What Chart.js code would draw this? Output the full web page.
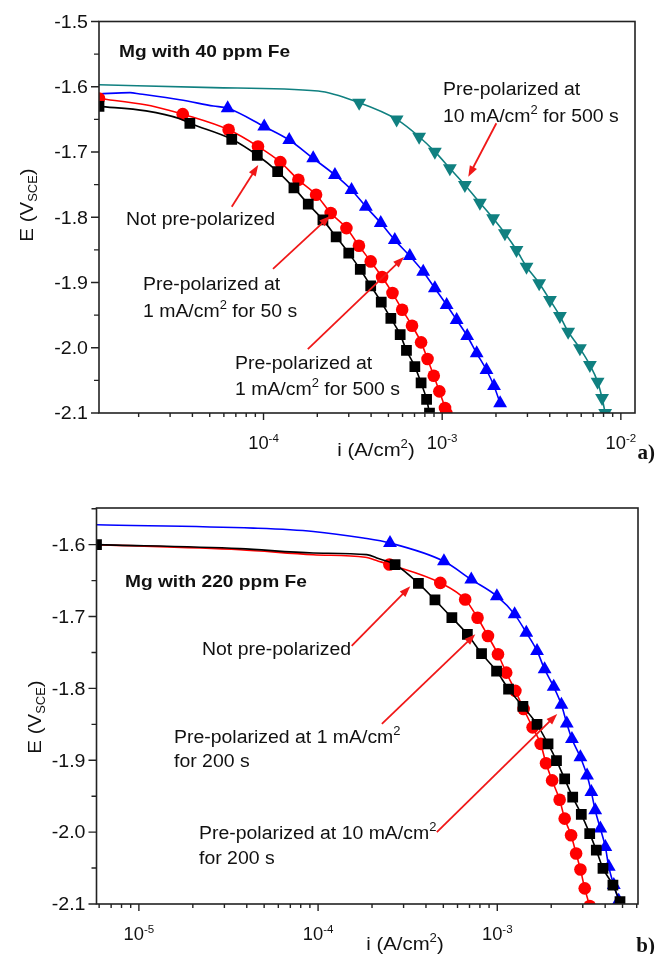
<!DOCTYPE html>
<html>
<head>
<meta charset="utf-8">
<script src="https://cdn.jsdelivr.net/npm/chart.js@4.4.0/dist/chart.umd.min.js"></script>
<style>
html, body { margin: 0; padding: 0; background: #fff; }
#wrap { position: relative; width: 656px; height: 954px; }
canvas { position: absolute; left: 0; top: 0; }
</style>
</head>
<body>
<div id="wrap">
  <canvas id="chartA" width="656" height="954"></canvas>
  <canvas id="chartB" width="656" height="954"></canvas>
</div>
<script>
// ---- panel a) Mg with 40 ppm Fe : current density i (A/cm2) vs potential E (V SCE)
const a_notPre_i = [1.2e-5, 2.2e-5, 3.4e-5, 3.87e-5, 6.64e-5, 9.23e-5, 1.2e-4, 1.48e-4, 1.78e-4, 2.15e-4, 2.55e-4, 3.0e-4, 3.48e-4, 3.98e-4, 4.56e-4, 5.16e-4, 5.82e-4, 6.31e-4, 7.03e-4, 7.62e-4, 8.18e-4, 8.49e-4];
const a_notPre_E = [-1.630, -1.637, -1.649, -1.656, -1.6805, -1.705, -1.730, -1.755, -1.780, -1.804, -1.830, -1.855, -1.880, -1.905, -1.930, -1.955, -1.980, -2.004, -2.029, -2.054, -2.079, -2.100];

const a_1mA50_i = [1.2e-5, 2.22e-5, 3.13e-5, 3.53e-5, 6.38e-5, 9.31e-5, 1.242e-4, 1.567e-4, 1.968e-4, 2.377e-4, 2.911e-4, 3.42e-4, 3.98e-4, 4.61e-4, 5.27e-4, 5.97e-4, 6.78e-4, 7.62e-4, 8.28e-4, 8.97e-4, 9.64e-4, 1.037e-3, 1.054e-3];
const a_1mA50_E = [-1.618, -1.628, -1.638, -1.642, -1.666, -1.6915, -1.7155, -1.7426, -1.7655, -1.7936, -1.8166, -1.8437, -1.8677, -1.8916, -1.9162, -1.9417, -1.9662, -1.9917, -2.0172, -2.0428, -2.0668, -2.0923, -2.100];

const a_1mA500_i = [1.2e-5, 1.79e-5, 2.03e-5, 3.4e-5, 5.24e-5, 6.3e-5, 1.009e-4, 1.393e-4, 1.897e-4, 2.51e-4, 3.11e-4, 3.74e-4, 4.53e-4, 5.43e-4, 6.59e-4, 7.83e-4, 9.1e-4, 1.059e-3, 1.205e-3, 1.38e-3, 1.56e-3, 1.77e-3, 1.95e-3, 2.11e-3];
const a_1mA500_E = [-1.611, -1.609, -1.611, -1.620, -1.6295, -1.633, -1.661, -1.6816, -1.7097, -1.7352, -1.7582, -1.7838, -1.8088, -1.8349, -1.8594, -1.8834, -1.9089, -1.9345, -1.9575, -1.982, -2.0085, -2.0341, -2.0586, -2.085];

const a_10mA500_i = [1.2e-5, 5.24e-5, 2.02e-4, 3.43e-4, 5.56e-4, 7.43e-4, 9.1e-4, 1.104e-3, 1.34e-3, 1.626e-3, 1.928e-3, 2.244e-3, 2.606e-3, 2.965e-3, 3.49e-3, 4.01e-3, 4.56e-3, 5.07e-3, 5.9e-3, 6.71e-3, 7.41e-3, 7.85e-3, 8.17e-3];
const a_10mA500_E = [-1.597, -1.6014, -1.6065, -1.6244, -1.650, -1.6766, -1.6995, -1.725, -1.7506, -1.7777, -1.8016, -1.8246, -1.8502, -1.8758, -1.9012, -1.9268, -1.9513, -1.9754, -2.0009, -2.0264, -2.052, -2.077, -2.100];

// ---- panel b) Mg with 220 ppm Fe
const b_notPre_i = [5.8e-6, 3.66e-5, 9.4e-5, 1.87e-4, 2.17e-4, 2.69e-4, 3.63e-4, 4.49e-4, 5.58e-4, 6.81e-4, 8.17e-4, 9.91e-4, 1.156e-3, 1.39e-3, 1.667e-3, 1.92e-3, 2.14e-3, 2.377e-3, 2.636e-3, 2.944e-3, 3.28e-3, 3.57e-3, 3.89e-3, 4.42e-3, 4.84e-3];
const b_notPre_E = [-1.600, -1.6055, -1.6116, -1.6139, -1.6194, -1.6277, -1.6539, -1.677, -1.7017, -1.7248, -1.7516, -1.776, -1.801, -1.825, -1.850, -1.8773, -1.9004, -1.9258, -1.9513, -1.9752, -2.002, -2.0251, -2.0505, -2.0737, -2.0968];

const b_1mA200_i = [5.8e-6, 3.66e-5, 9.4e-5, 1.83e-4, 2.17e-4, 2.5e-4, 4.81e-4, 6.62e-4, 7.76e-4, 8.87e-4, 1.009e-3, 1.122e-3, 1.262e-3, 1.403e-3, 1.574e-3, 1.746e-3, 1.871e-3, 2.023e-3, 2.228e-3, 2.377e-3, 2.582e-3, 2.754e-3, 2.911e-3, 3.076e-3, 3.28e-3];
const b_1mA200_E = [-1.600, -1.607, -1.614, -1.6176, -1.623, -1.6277, -1.6532, -1.6763, -1.7017, -1.7271, -1.7525, -1.778, -1.8034, -1.8287, -1.8542, -1.8772, -1.9041, -1.928, -1.9549, -1.9812, -2.0043, -2.0297, -2.0519, -2.0782, -2.1028];

const b_10mA200_i = [5.8e-6, 4.36e-5, 9.4e-5, 1.79e-4, 2.52e-4, 5.04e-4, 7.16e-4, 9.95e-4, 1.25e-3, 1.452e-3, 1.667e-3, 1.837e-3, 2.065e-3, 2.28e-3, 2.443e-3, 2.61e-3, 2.91e-3, 3.17e-3, 3.35e-3, 3.52e-3, 3.76e-3, 4.01e-3, 4.19e-3, 4.47e-3, 4.76e-3];
const b_10mA200_E = [-1.5723, -1.577, -1.5816, -1.5908, -1.5978, -1.6232, -1.6486, -1.6717, -1.697, -1.7225, -1.7479, -1.7733, -1.7978, -1.8228, -1.8487, -1.8703, -1.8958, -1.9212, -1.9443, -1.9697, -1.9951, -2.0206, -2.0483, -2.0737, -2.0954];

// axis ranges and tick labels
const a_xRange = [1.2e-5, 1.2e-2];
const a_yRange = [-2.1, -1.5];
const a_yTickLabels = ['-1.5', '-1.6', '-1.7', '-1.8', '-1.9', '-2.0', '-2.1'];
const a_xTickExp = [-4, -3, -2];
const b_xRange = [5.8e-6, 6.1e-3];
const b_yRange = [-2.1, -1.549];
const b_yTickLabels = ['-1.6', '-1.7', '-1.8', '-1.9', '-2.0', '-2.1'];
const b_xTickExp = [-5, -4, -3];

const FONT = "'Liberation Sans', Arial, sans-serif";
const RED_ARROW = '#f01818';
const TEAL = '#108080';

function rich(ctx, parts, x, y, o) {
  const size = o.size, hs = o.hs || 1, weight = o.weight || 'normal', fam = o.family || FONT;
  const small = Math.round(size * 0.64);
  const widths = parts.map(p => {
    ctx.font = weight + ' ' + (p[1] ? small : size) + 'px ' + fam;
    return ctx.measureText(p[0]).width * hs;
  });
  const total = widths.reduce((s, w) => s + w, 0);
  let cx = x;
  if (o.align === 'center') cx = x - total / 2;
  if (o.align === 'right') cx = x - total;
  ctx.textBaseline = 'alphabetic';
  ctx.textAlign = 'left';
  ctx.fillStyle = o.color || '#111';
  parts.forEach((p, k) => {
    ctx.font = weight + ' ' + (p[1] ? small : size) + 'px ' + fam;
    const dy = p[1] === 1 ? -size * 0.42 : (p[1] === -1 ? size * 0.22 : 0);
    ctx.save();
    ctx.translate(cx, y + dy);
    ctx.scale(hs, 1);
    ctx.fillText(p[0], 0, 0);
    ctx.restore();
    cx += widths[k];
  });
}

function arrow(ctx, x0, y0, x1, y1) {
  const ang = Math.atan2(y1 - y0, x1 - x0), L = 11, W = 4;
  ctx.save();
  ctx.strokeStyle = RED_ARROW;
  ctx.fillStyle = RED_ARROW;
  ctx.lineWidth = 1.8;
  ctx.beginPath();
  ctx.moveTo(x0, y0);
  ctx.lineTo(x1 - Math.cos(ang) * L * 0.8, y1 - Math.sin(ang) * L * 0.8);
  ctx.stroke();
  ctx.beginPath();
  ctx.moveTo(x1, y1);
  ctx.lineTo(x1 - Math.cos(ang) * L - Math.sin(ang) * W, y1 - Math.sin(ang) * L + Math.cos(ang) * W);
  ctx.lineTo(x1 - Math.cos(ang) * L + Math.sin(ang) * W, y1 - Math.sin(ang) * L - Math.cos(ang) * W);
  ctx.closePath();
  ctx.fill();
  ctx.restore();
}

const R = { rect: 7.6, circle: 6.3, triangle: 8 };

function series(xs, ys, color, style, m0, edge, rot) {
  return {
    data: xs.map((x, k) => ({ x: x, y: ys[k] })),
    showLine: true,
    borderColor: color,
    backgroundColor: color,
    borderWidth: 1.6,
    pointStyle: style,
    pointRotation: rot || 0,
    pointRadius: c => (c.dataIndex >= m0 || (edge && c.dataIndex === 0)) ? R[style] : 0,
    pointBorderWidth: 0,
    pointHoverRadius: 0,
    cubicInterpolationMode: 'monotone',
    clip: 0
  };
}

// frame, tick marks, tick labels, axis titles, annotations
function axesPlugin(opts) {
  return {
    id: 'axes' + opts.id,
    afterDatasetsDraw(chart) {
      const ctx = chart.ctx, a = chart.chartArea, xs = chart.scales.x, ys = chart.scales.y;
      ctx.save();
      ctx.strokeStyle = '#222';
      ctx.lineWidth = 1.6;
      ctx.strokeRect(a.left, a.top, a.right - a.left, a.bottom - a.top);
      ctx.lineWidth = 1.4;
      ctx.beginPath();
      // y ticks every 0.05, majors every 0.1
      for (let k = 0; k <= 12; k++) {
        const v = -2.1 + k * 0.05;
        if (v > ys.max + 1e-6) break;
        const py = ys.getPixelForValue(v);
        const len = k % 2 === 0 ? 8 : 5;
        ctx.moveTo(a.left - len, py);
        ctx.lineTo(a.left, py);
      }
      // log x ticks
      for (let d = -6; d <= -2; d++) {
        for (let m = 1; m <= 9; m++) {
          const v = m * Math.pow(10, d);
          if (v < xs.min || v > xs.max) continue;
          const px = xs.getPixelForValue(v);
          const len = m === 1 ? 7 : 4;
          ctx.moveTo(px, a.bottom);
          ctx.lineTo(px, a.bottom + len);
        }
      }
      ctx.stroke();
      ctx.restore();
    },
    afterDraw(chart) {
      const ctx = chart.ctx, a = chart.chartArea, xs = chart.scales.x, ys = chart.scales.y;
      ctx.save();
      // y tick labels
      opts.yLabels.forEach(t => {
        const py = ys.getPixelForValue(parseFloat(t));
        rich(ctx, [[t, 0]], a.left - 11, py + 6.3, { size: 17.5, hs: 1.12, align: 'right' });
      });
      // x tick labels
      opts.xExp.forEach(e => {
        const px = xs.getPixelForValue(Math.pow(10, e));
        rich(ctx, [['10', 0], [String(e), 1]], px, a.bottom + 36, { size: 17.5, hs: 1.05, align: 'center' });
      });
      // axis titles
      rich(ctx, [['i (A/cm', 0], ['2', 1], [')', 0]], opts.xTitle[0], opts.xTitle[1], { size: 18.5, hs: 1.1, align: 'center' });
      ctx.save();
      ctx.translate(opts.yTitle[0], opts.yTitle[1]);
      ctx.rotate(-Math.PI / 2);
      rich(ctx, [['E (V', 0], ['SCE', -1], [')', 0]], 0, 7, { size: 19, hs: 1.08, align: 'center' });
      ctx.restore();
      // panel letter
      rich(ctx, [[opts.letter, 0]], 655, opts.letterY, { size: 21, weight: 'bold', family: "'Liberation Serif', 'Times New Roman', serif", align: 'right' });
      // annotations
      opts.notes.forEach(n => rich(ctx, n.parts, n.x, n.y, { size: n.bold ? 16.5 : 18, weight: n.bold ? 'bold' : 'normal', hs: n.bold ? 1.16 : 1.08 }));
      opts.arrows.forEach(r => arrow(ctx, xs.getPixelForValue(r[0]), ys.getPixelForValue(r[1]), xs.getPixelForValue(r[2]), ys.getPixelForValue(r[3])));
      ctx.restore();
    }
  };
}

function makeChart(id, datasets, xr, yr, pad, plug) {
  return new Chart(document.getElementById(id).getContext('2d'), {
    type: 'scatter',
    data: { datasets: datasets },
    options: {
      responsive: false,
      animation: false,
      events: [],
      layout: { padding: pad },
      plugins: { legend: { display: false }, tooltip: { enabled: false } },
      scales: {
        x: { type: 'logarithmic', min: xr[0], max: xr[1], display: false },
        y: { type: 'linear', min: yr[0], max: yr[1], display: false }
      }
    },
    plugins: [plug]
  });
}

makeChart('chartA', [
  series(a_notPre_i, a_notPre_E, '#000000', 'rect', 3, true),
  series(a_1mA50_i, a_1mA50_E, '#ff0000', 'circle', 3, true),
  series(a_1mA500_i, a_1mA500_E, '#0000ff', 'triangle', 5, false),
  series(a_10mA500_i, a_10mA500_E, TEAL, 'triangle', 3, false, 180)
], a_xRange, a_yRange, { left: 99, right: 21, top: 21.5, bottom: 541 }, axesPlugin({
  id: 'A',
  yLabels: a_yTickLabels,
  xExp: a_xTickExp,
  xTitle: [376, 456],
  yTitle: [26, 205],
  letter: 'a)',
  letterY: 459,
  notes: [
    { parts: [['Mg with 40 ppm Fe', 0]], x: 119, y: 57, bold: true },
    { parts: [['Pre-polarized at', 0]], x: 443, y: 94.5 },
    { parts: [['10 mA/cm', 0], ['2', 1], [' for 500 s', 0]], x: 443, y: 121.5 },
    { parts: [['Not pre-polarized', 0]], x: 126, y: 224.5 },
    { parts: [['Pre-polarized at', 0]], x: 143, y: 289.5 },
    { parts: [['1 mA/cm', 0], ['2', 1], [' for 50 s', 0]], x: 143, y: 316.5 },
    { parts: [['Pre-polarized at', 0]], x: 235, y: 368.5 },
    { parts: [['1 mA/cm', 0], ['2', 1], [' for 500 s', 0]], x: 235, y: 394.5 }
  ],
  arrows: [
    [2.01e-3, -1.656, 1.40e-3, -1.738],
    [6.64e-5, -1.784, 9.34e-5, -1.720],
    [1.13e-4, -1.879, 2.36e-4, -1.798],
    [1.77e-4, -2.002, 6.11e-4, -1.861]
  ]
}));

makeChart('chartB', [
  series(b_notPre_i, b_notPre_E, '#000000', 'rect', 5, true),
  series(b_1mA200_i, b_1mA200_E, '#ff0000', 'circle', 5, false),
  series(b_10mA200_i, b_10mA200_E, '#0000ff', 'triangle', 4, false)
], b_xRange, b_yRange, { left: 96.5, right: 18, top: 508, bottom: 50 }, axesPlugin({
  id: 'B',
  yLabels: b_yTickLabels,
  xExp: b_xTickExp,
  xTitle: [405, 950],
  yTitle: [34, 717],
  letter: 'b)',
  letterY: 952,
  notes: [
    { parts: [['Mg with 220 ppm Fe', 0]], x: 125, y: 587, bold: true },
    { parts: [['Not pre-polarized', 0]], x: 202, y: 654.5 },
    { parts: [['Pre-polarized at 1 mA/cm', 0], ['2', 1]], x: 174, y: 742.5 },
    { parts: [['for 200 s', 0]], x: 174, y: 766.5 },
    { parts: [['Pre-polarized at 10 mA/cm', 0], ['2', 1]], x: 199, y: 838.5 },
    { parts: [['for 200 s', 0]], x: 199, y: 863.5 }
  ],
  arrows: [
    [1.54e-4, -1.741, 3.27e-4, -1.658],
    [2.27e-4, -1.8495, 7.54e-4, -1.7248],
    [4.6e-4, -2.0, 2.16e-3, -1.8357]
  ]
}));
</script>
</body>
</html>
